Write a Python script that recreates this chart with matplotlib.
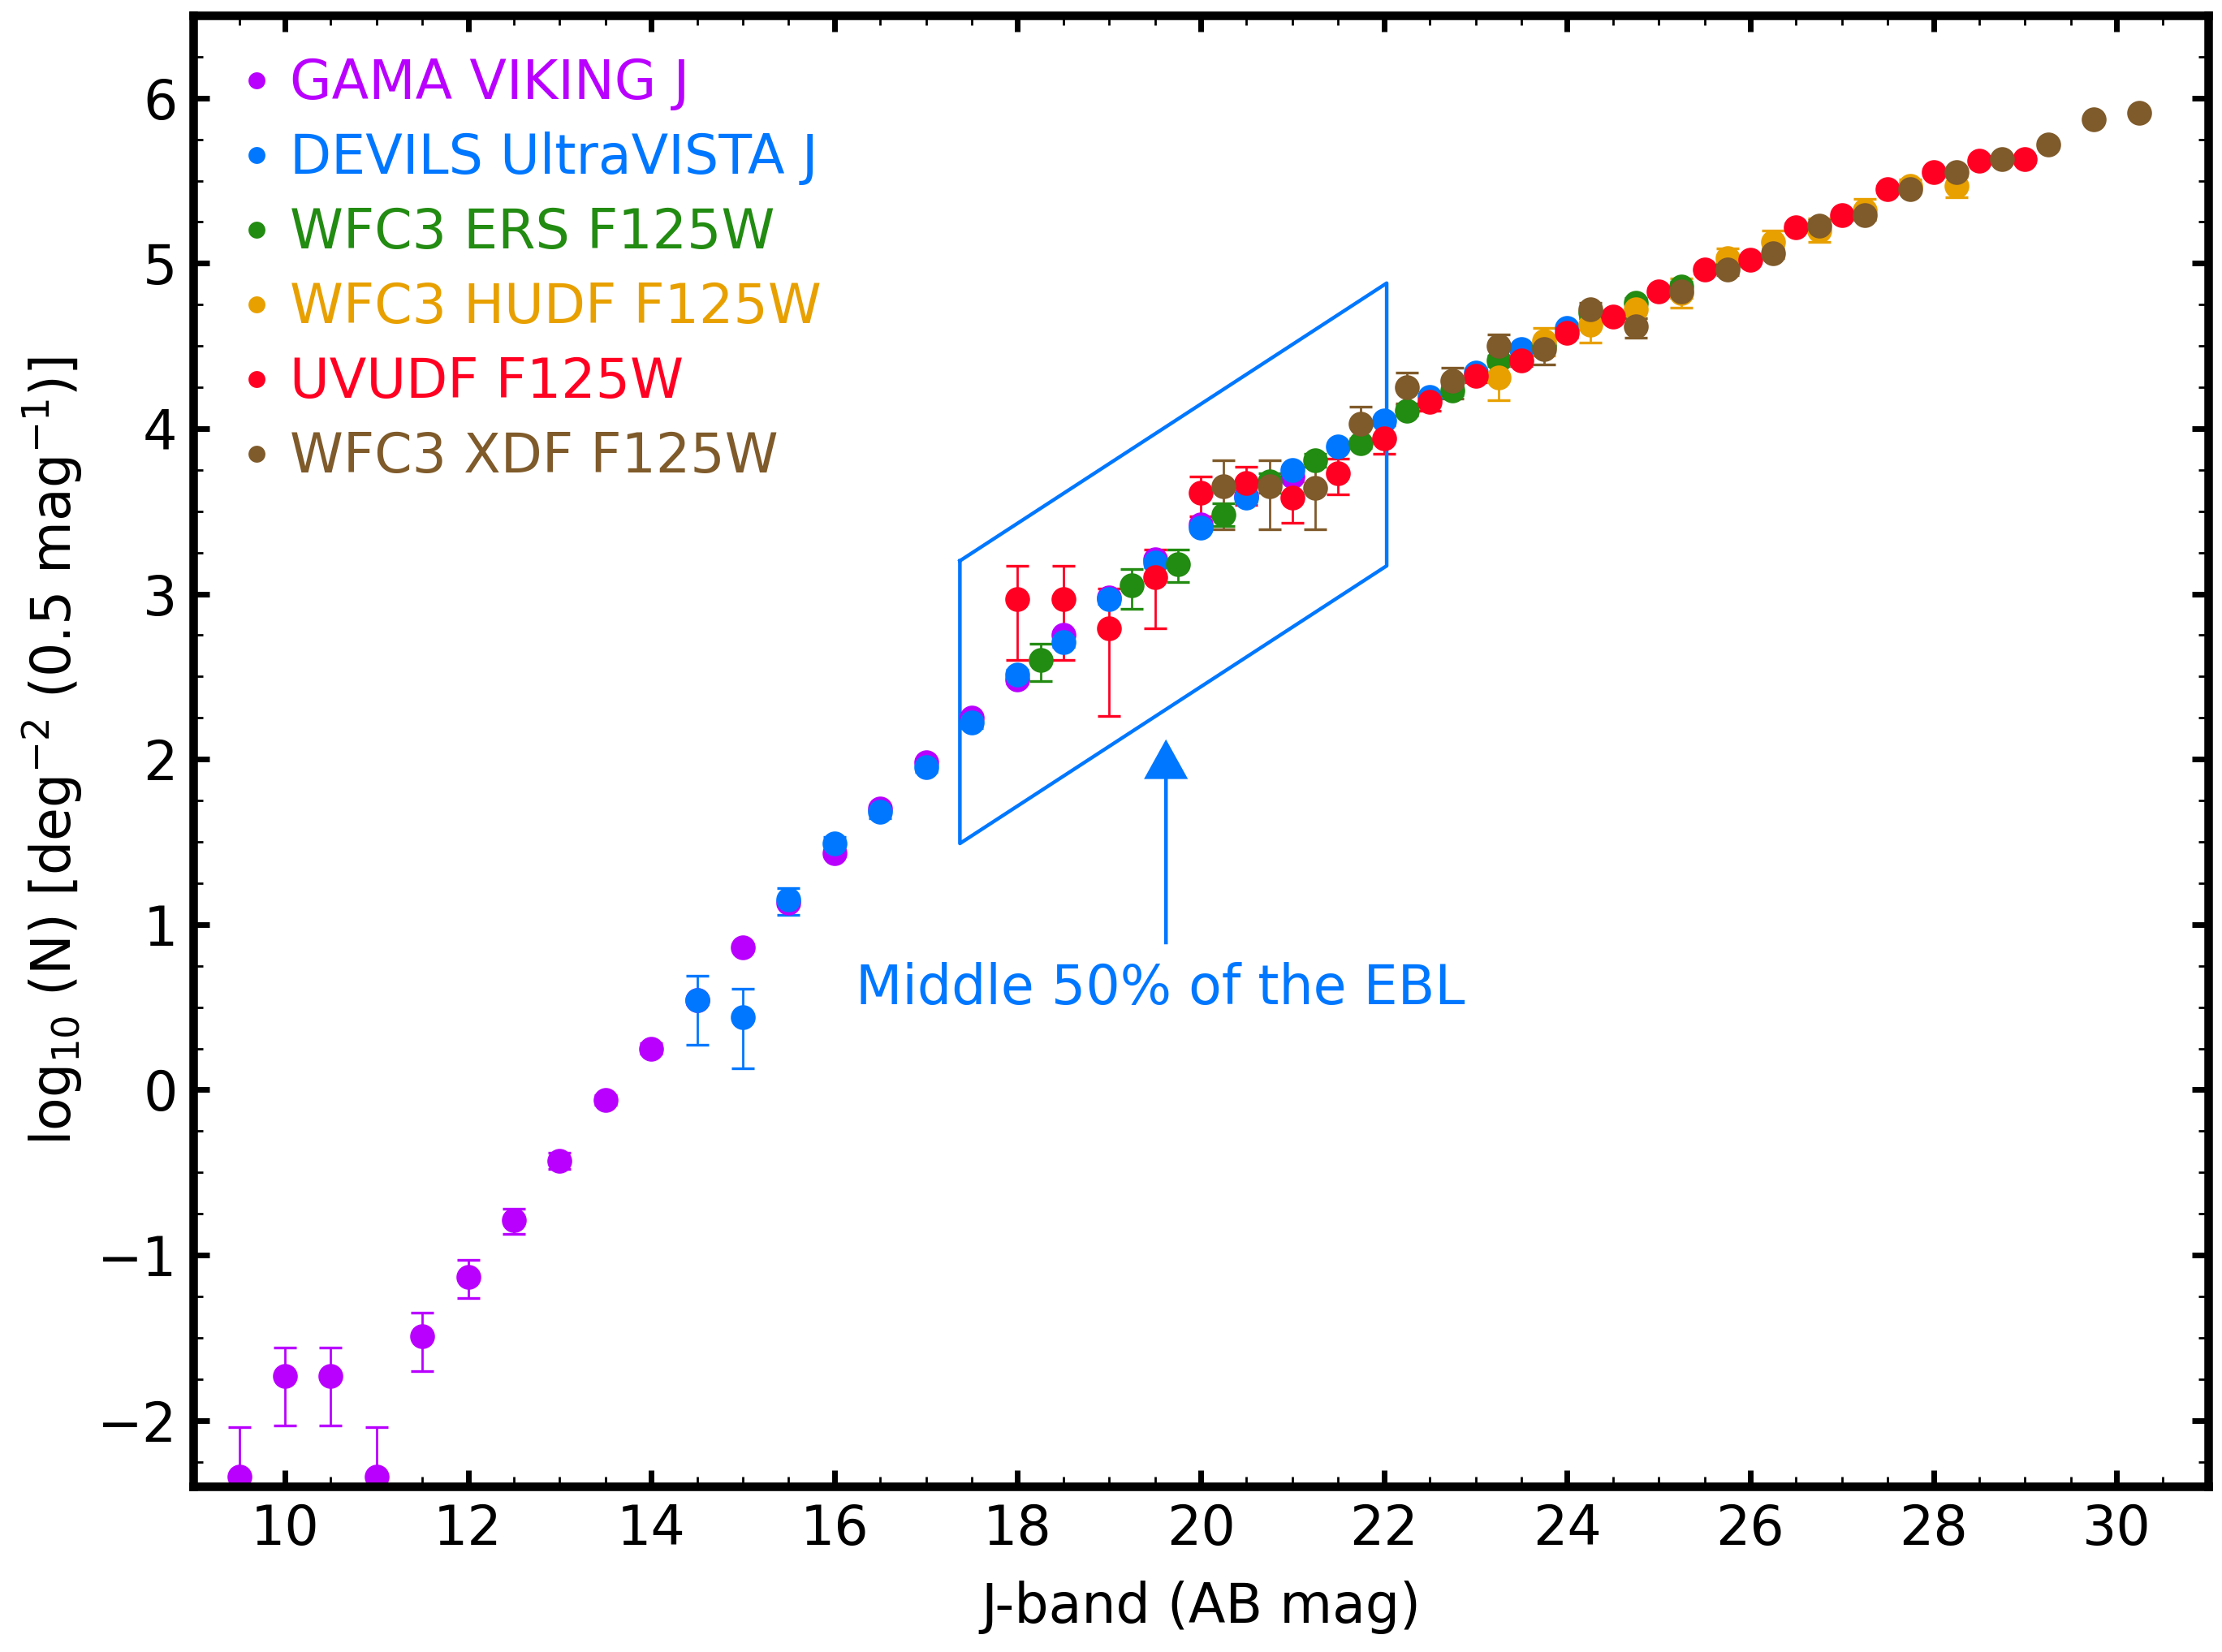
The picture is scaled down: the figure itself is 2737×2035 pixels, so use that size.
import matplotlib
matplotlib.use('Agg')
import matplotlib.pyplot as plt
from matplotlib.lines import Line2D
from matplotlib.ticker import MultipleLocator
import numpy as np

plt.rcParams['font.family'] = 'DejaVu Sans'
plt.rcParams['font.size'] = 24
plt.rcParams['mathtext.default'] = 'regular'

# GAMA VIKING J
gama_mag = [9.5, 10.0, 10.5, 11.0, 11.5, 12.0, 12.5, 13.0, 13.5, 14.0, 14.5, 15.0,
            15.5, 16.0, 16.5, 17.0, 17.5, 18.0, 18.5, 19.0, 19.5, 20.0, 20.5, 21.0]
gama_n = [-2.34, -1.73, -1.73, -2.34, -1.49, -1.13, -0.79, -0.43, -0.06, 0.25, 0.54, 0.86,
          1.13, 1.43, 1.70, 1.98, 2.25, 2.48, 2.75, 2.98, 3.21, 3.42, 3.59, 3.71]
gama_lo = [0.60, 0.30, 0.30, 0.60, 0.21, 0.13, 0.08, 0.05, 0.03, 0.03, 0.02, 0.02,
           0.02, 0.02, 0.02, 0.02, 0.02, 0.02, 0.02, 0.02, 0.02, 0.02, 0.02, 0.02]
gama_hi = [0.30, 0.17, 0.17, 0.30, 0.14, 0.10, 0.07, 0.05, 0.03, 0.03, 0.02, 0.02,
           0.02, 0.02, 0.02, 0.02, 0.02, 0.02, 0.02, 0.02, 0.02, 0.02, 0.02, 0.02]

# DEVILS UltraVISTA J
devils_mag = [14.5, 15.0, 15.5, 16.0, 16.5, 17.0, 17.5, 18.0, 18.5, 19.0, 19.5, 20.0,
              20.5, 21.0, 21.5, 22.0, 22.5, 23.0, 23.5, 24.0]
devils_n = [0.54, 0.44, 1.15, 1.49, 1.68, 1.95, 2.22, 2.51, 2.71, 2.97, 3.19, 3.40,
            3.58, 3.75, 3.89, 4.05, 4.19, 4.34, 4.48, 4.61]
devils_lo = [0.27, 0.31, 0.09, 0.05, 0.04, 0.03, 0.03, 0.03, 0.03, 0.03, 0.03, 0.02,
             0.02, 0.02, 0.02, 0.02, 0.02, 0.02, 0.02, 0.02]
devils_hi = [0.15, 0.17, 0.07, 0.04, 0.03, 0.03, 0.03, 0.03, 0.03, 0.03, 0.03, 0.02,
             0.02, 0.02, 0.02, 0.02, 0.02, 0.02, 0.02, 0.02]

# WFC3 ERS F125W
ers_mag = [18.25, 19.25, 19.75, 20.25, 20.75, 21.25, 21.75, 22.25, 22.75, 23.25, 23.75,
           24.25, 24.75, 25.25, 25.75]
ers_n = [2.60, 3.05, 3.18, 3.48, 3.68, 3.81, 3.91, 4.11, 4.23, 4.41, 4.50,
         4.70, 4.76, 4.86, 4.98]
ers_lo = [0.13, 0.14, 0.11, 0.07, 0.07, 0.04, 0.03, 0.03, 0.03, 0.03, 0.03,
          0.03, 0.03, 0.03, 0.03]
ers_hi = [0.10, 0.10, 0.09, 0.07, 0.05, 0.04, 0.03, 0.03, 0.03, 0.03, 0.03,
          0.03, 0.03, 0.03, 0.03]

# WFC3 HUDF F125W
hudf_mag = [23.25, 23.75, 24.25, 24.75, 25.25, 25.75, 26.25, 26.75, 27.25, 27.75, 28.25]
hudf_n = [4.31, 4.53, 4.63, 4.72, 4.82, 5.03, 5.13, 5.20, 5.32, 5.47, 5.47]
hudf_lo = [0.14, 0.09, 0.11, 0.05, 0.09, 0.06, 0.06, 0.07, 0.05, 0.04, 0.07]
hudf_hi = [0.10, 0.08, 0.06, 0.05, 0.09, 0.06, 0.07, 0.07, 0.07, 0.04, 0.05]

# UVUDF F125W
uvudf_mag = [18.0, 18.5, 19.0, 19.5, 20.0, 20.5, 21.0, 21.5, 22.0, 22.5, 23.0, 23.5,
             24.0, 24.5, 25.0, 25.5, 26.0, 26.5, 27.0, 27.5, 28.0, 28.5, 29.0]
uvudf_n = [2.97, 2.97, 2.79, 3.10, 3.61, 3.67, 3.58, 3.73, 3.94, 4.16, 4.32, 4.41,
           4.58, 4.68, 4.83, 4.96, 5.02, 5.22, 5.29, 5.45, 5.55, 5.62, 5.63]
uvudf_lo = [0.37, 0.37, 0.53, 0.31, 0.14, 0.13, 0.15, 0.13, 0.09, 0.05, 0.04, 0.03,
            0.03, 0.02, 0.02, 0.02, 0.02, 0.02, 0.02, 0.02, 0.02, 0.02, 0.02]
uvudf_hi = [0.20, 0.20, 0.24, 0.17, 0.10, 0.10, 0.10, 0.09, 0.08, 0.04, 0.04, 0.03,
            0.03, 0.02, 0.02, 0.02, 0.02, 0.02, 0.02, 0.02, 0.02, 0.02, 0.02]

# WFC3 XDF F125W
xdf_mag = [20.25, 20.75, 21.25, 21.75, 22.25, 22.75, 23.25, 23.75, 24.25, 24.75, 25.25,
           25.75, 26.25, 26.75, 27.25, 27.75, 28.25, 28.75, 29.25, 29.75, 30.25]
xdf_n = [3.65, 3.65, 3.64, 4.03, 4.25, 4.29, 4.50, 4.48, 4.72, 4.62, 4.83,
         4.96, 5.06, 5.23, 5.29, 5.45, 5.55, 5.63, 5.72, 5.87, 5.91]
xdf_lo = [0.26, 0.26, 0.25, 0.12, 0.10, 0.11, 0.08, 0.09, 0.05, 0.07, 0.04,
          0.03, 0.03, 0.03, 0.03, 0.02, 0.02, 0.02, 0.02, 0.01, 0.01]
xdf_hi = [0.16, 0.16, 0.17, 0.10, 0.09, 0.08, 0.07, 0.05, 0.04, 0.05, 0.04,
          0.03, 0.03, 0.03, 0.03, 0.02, 0.02, 0.02, 0.02, 0.01, 0.01]

# "Middle 50% of the EBL" box
ebl_mag = [17.37, 22.03]
ebl_top = [3.20, 4.88]
ebl_bottom = [1.49, 3.17]

series = [
    ('GAMA VIKING J', gama_mag, gama_n, gama_lo, gama_hi, '#b900ff'),
    ('DEVILS UltraVISTA J', devils_mag, devils_n, devils_lo, devils_hi, '#0077ff'),
    ('WFC3 ERS F125W', ers_mag, ers_n, ers_lo, ers_hi, '#228b11'),
    ('WFC3 HUDF F125W', hudf_mag, hudf_n, hudf_lo, hudf_hi, '#e8a000'),
    ('UVUDF F125W', uvudf_mag, uvudf_n, uvudf_lo, uvudf_hi, '#ff0022'),
    ('WFC3 XDF F125W', xdf_mag, xdf_n, xdf_lo, xdf_hi, '#7f5a2a'),
]

fig = plt.figure(figsize=(13.685, 10.175), dpi=200)
ax = fig.add_axes([0.087, 0.1002, 0.9068, 0.8905])

handles = []
for label, mag, n, lo, hi, col in series:
    ax.errorbar(mag, n, yerr=[lo, hi], fmt='o', color=col, ms=10,
                elinewidth=1.0, capsize=5, capthick=1.2)
    handles.append(Line2D([], [], marker='o', ls='none', color=col, ms=7.5, mew=0, label=label))

# box and arrow
box_col = '#0077ff'
ax.plot([ebl_mag[0], ebl_mag[1], ebl_mag[1], ebl_mag[0], ebl_mag[0]],
        [ebl_top[0], ebl_top[1], ebl_bottom[1], ebl_bottom[0], ebl_top[0]],
        color=box_col, lw=1.6)
ax.arrow(19.62, 0.88, 0, 1.24, width=0.04, head_width=0.48, head_length=0.24,
         length_includes_head=True, color=box_col, lw=0)
ax.text(19.56, 0.61, 'Middle 50% of the EBL', color=box_col, ha='center', va='center')

ax.set_xlim(9, 31)
ax.set_ylim(-2.4, 6.5)
ax.xaxis.set_major_locator(MultipleLocator(2))
ax.xaxis.set_minor_locator(MultipleLocator(0.5))
ax.yaxis.set_major_locator(MultipleLocator(1))
ax.yaxis.set_minor_locator(MultipleLocator(0.25))
ax.tick_params(which='both', direction='in', top=True, right=True, labelsize=24)
ax.tick_params(which='major', length=7.2, width=2.5, pad=7)
ax.tick_params(which='minor', length=4.3, width=1.0)
for s in ax.spines.values():
    s.set_linewidth(3.8)

ax.set_xlabel('J-band (AB mag)', fontsize=24, labelpad=11)
ax.set_ylabel('log$_{10}$ (N) [deg$^{-2}$ (0.5 mag$^{-1}$)]', fontsize=24, labelpad=6)

leg = ax.legend(handles=handles, loc='upper left', frameon=False, fontsize=24,
                handlelength=0.8, handletextpad=0.21, labelspacing=0.39,
                borderaxespad=0.37, labelcolor='linecolor')

fig.savefig('out.png', dpi=200)
